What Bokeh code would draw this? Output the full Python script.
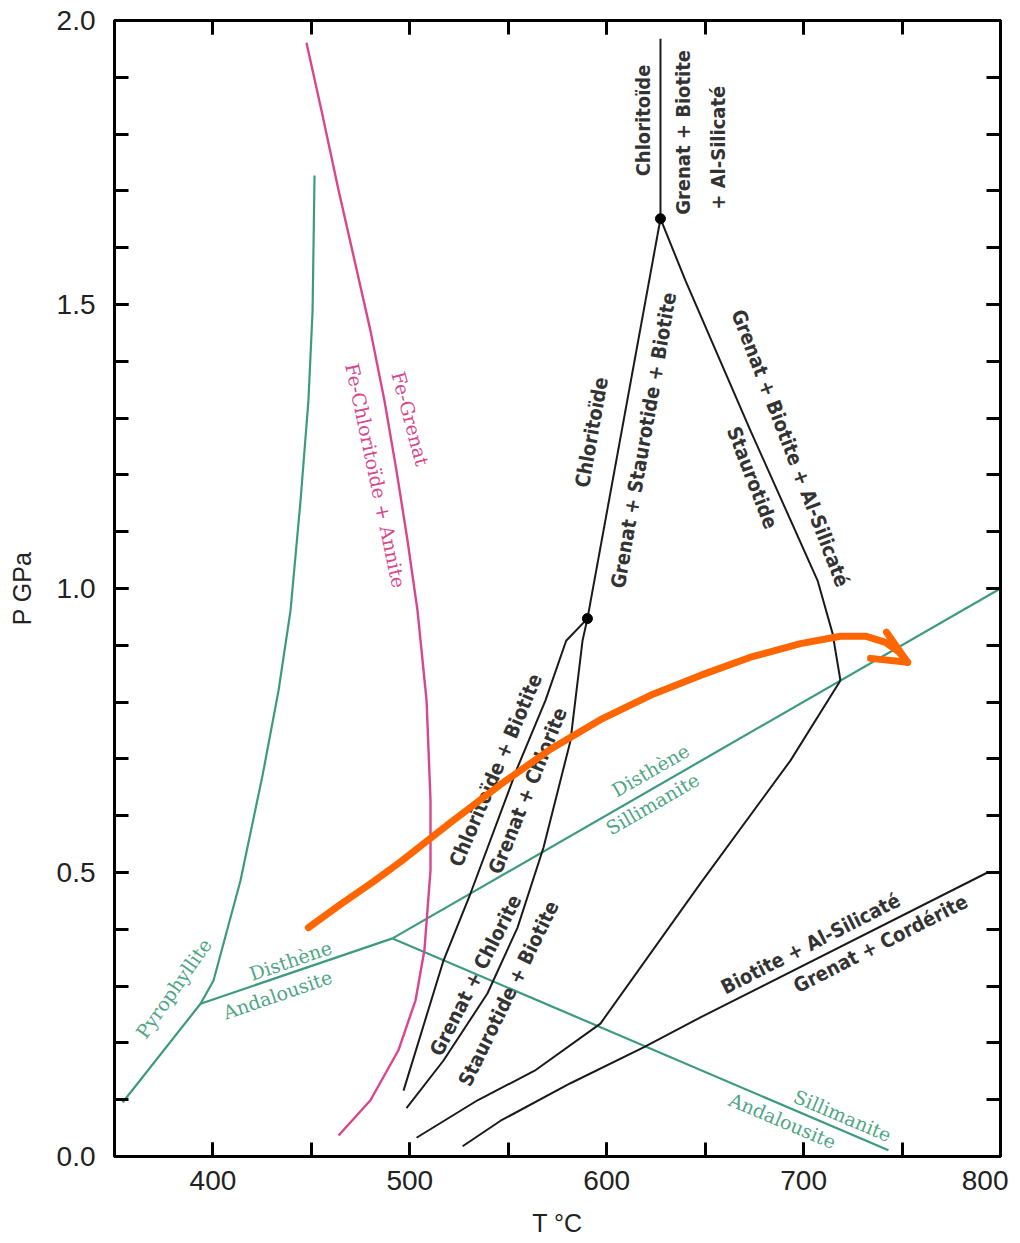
from bokeh.plotting import figure
from bokeh.models import LinearAxis, SingleIntervalTicker, PrintfTickFormatter, CustomJSTickFormatter
from bokeh.embed import file_html
from bokeh.resources import INLINE
from bokeh.core.properties import value

# ---------------- data (T in °C, P in GPa) ----------------
x_ticks_interval = 100
y_ticks_interval = 0.5

# green: pyrophyllite reaction
pyro_T = [354.1, 393.7, 400.3, 414.0, 425.2, 433.3, 439.4, 444.5, 448.5, 450.6, 451.6]
pyro_P = [0.095, 0.269, 0.310, 0.486, 0.671, 0.820, 0.961, 1.155, 1.331, 1.489, 1.727]
# green: Al-silicate triple point lines
ky_and_T = [393.7, 491.2]
ky_and_P = [0.269, 0.384]
ky_sil_T = [491.2, 800.0]
ky_sil_P = [0.384, 1.000]
and_sil_T = [491.2, 743.1]
and_sil_P = [0.384, 0.011]

# pink: Fe-Grenat = Fe-Chloritoide + Annite
fe_T = [447.5, 455.1, 463.8, 471.9, 480.0, 487.1, 493.2, 498.8, 503.9, 508.5, 510.5, 510.5,
        507.4, 502.9, 494.2, 480.0, 463.8]
fe_P = [1.961, 1.842, 1.701, 1.578, 1.454, 1.331, 1.208, 1.085, 0.961, 0.803, 0.627, 0.504,
        0.363, 0.275, 0.187, 0.099, 0.037]

# black reactions
a_T = [627.3, 627.3]
a_P = [1.968, 1.651]
b_T = [627.3, 590.2]
b_P = [1.651, 0.947]
c_T = [627.3, 640.0, 673.0, 707.1, 714.7, 718.7]
c_P = [1.651, 1.542, 1.278, 1.014, 0.921, 0.838]
d_T = [718.7, 693.3, 647.6, 596.8, 563.4, 534.4, 503.4]
d_P = [0.838, 0.697, 0.481, 0.234, 0.151, 0.099, 0.033]
e_T = [590.2, 579.4, 568.9, 554.7, 530.8, 517.1, 496.8]
e_P = [0.947, 0.908, 0.803, 0.685, 0.463, 0.345, 0.116]
f_T = [590.2, 587.7, 581.6, 567.9, 554.7, 539.4, 517.1, 498.3]
f_P = [0.947, 0.908, 0.732, 0.544, 0.403, 0.287, 0.169, 0.085]
g_T = [526.8, 546.1, 581.6, 618.7, 647.6, 793.4, 800.0]
g_P = [0.018, 0.063, 0.129, 0.192, 0.245, 0.500, 0.500]

# invariant points
inv_T = [627.3, 590.2]
inv_P = [1.651, 0.947]

# orange P-T path
path_T = [448.5, 464.8, 481.5, 495.3, 520.7, 546.1, 571.4, 596.8, 622.2, 647.6, 673.0, 698.4,
          718.7, 731.4, 741.6, 748.2, 752.8]
path_P = [0.403, 0.444, 0.484, 0.519, 0.588, 0.655, 0.717, 0.769, 0.812, 0.847, 0.879, 0.903,
          0.916, 0.916, 0.905, 0.889, 0.870]
arrow1_T = [742.1, 752.8]
arrow1_P = [0.923, 0.870]
arrow2_T = [734.0, 752.8]
arrow2_P = [0.877, 0.870]

# labels
black_text = ["Chloritoïde", "Grenat + Biotite", "+ Al-Silicaté",
              "Chloritoïde", "Grenat + Staurotide + Biotite",
              "Grenat + Biotite + Al-Silicaté", "Staurotide",
              "Chloritoïde + Biotite", "Grenat + Chlorite",
              "Grenat + Chlorite", "Staurotide + Biotite",
              "Biotite + Al-Silicaté", "Grenat + Cordérite"]
black_T = [618.2, 638.5, 656.3, 592.3, 618.7, 693.3, 674.0, 543.5, 559.8, 533.4, 550.1, 703.5, 739.1]
black_P = [1.824, 1.803, 1.776, 1.275, 1.261, 1.247, 1.195, 0.680, 0.644, 0.319, 0.287, 0.375, 0.375]
black_ang = [90, 90, 90, 80, 80, -69, -69, 67, 68, 63, 64, 27, 27]

green_text = ["Pyrophyllite", "Disthène", "Andalousite", "Disthène", "Sillimanite",
              "Sillimanite", "Andalousite"]
green_T = [380.0, 439.4, 432.8, 622.2, 623.3, 719.8, 689.3]
green_P = [0.296, 0.345, 0.285, 0.680, 0.621, 0.072, 0.063]
green_ang = [55, 19, 19, 30, 30, -23, -23]

pink_text = ["Fe-Grenat", "Fe-Chloritoïde + Annite"]
pink_T = [500.3, 482.6]
pink_P = [1.299, 1.199]
pink_ang = [-75, -78]

# ---------------- figure ----------------
GREEN = "#3d9a80"
GREEN_TXT = "#4fa585"
PINK = "#d8468e"
BLACK = "#1a1a1a"
ORANGE = "#ff6600"

p = figure(frame_width=886, frame_height=1136, x_range=(350, 800), y_range=(0, 2.0),
           output_backend="svg", toolbar_location=None,
           min_border_left=114, min_border_right=8, min_border_top=20, min_border_bottom=78,
           x_axis_label="T °C", y_axis_label="P GPa")
p.xgrid.visible = False
p.ygrid.visible = False
p.outline_line_color = "black"
p.outline_line_width = 3
p.background_fill_color = "white"
p.border_fill_color = "white"

p.xaxis.ticker = SingleIntervalTicker(interval=x_ticks_interval, num_minor_ticks=2)
p.yaxis.ticker = SingleIntervalTicker(interval=y_ticks_interval, num_minor_ticks=5)
p.yaxis.formatter = PrintfTickFormatter(format="%.1f")

def style_axis(ax):
    ax.axis_line_width = 3
    ax.axis_line_color = "black"
    ax.major_tick_line_width = 3
    ax.minor_tick_line_width = 3
    ax.major_tick_in = 14
    ax.major_tick_out = 0
    ax.minor_tick_in = 14
    ax.minor_tick_out = 0
    ax.major_label_text_font = "Liberation Sans"
    ax.major_label_text_font_size = "28px"
    ax.major_label_text_color = "#222222"
    ax.axis_label_text_font = "Liberation Sans"
    ax.axis_label_text_font_size = "25px"
    ax.axis_label_text_font_style = "normal"
    ax.axis_label_text_color = "#222222"

for ax in p.xaxis + p.yaxis:
    style_axis(ax)
p.yaxis.major_label_standoff = 19
p.yaxis.axis_label_standoff = 18
p.xaxis.major_label_standoff = 14
p.xaxis.axis_label_standoff = 16

top = LinearAxis(ticker=SingleIntervalTicker(interval=x_ticks_interval, num_minor_ticks=2))
right = LinearAxis(ticker=SingleIntervalTicker(interval=y_ticks_interval, num_minor_ticks=5))
for ax in (top, right):
    style_axis(ax)
    ax.formatter = CustomJSTickFormatter(code="return '';")
    ax.major_label_standoff = 0
p.add_layout(top, "above")
p.add_layout(right, "right")

# green lines
for xs, ys in [(pyro_T, pyro_P), (ky_and_T, ky_and_P), (ky_sil_T, ky_sil_P), (and_sil_T, and_sil_P)]:
    p.line(xs, ys, line_color=GREEN, line_width=2.2, line_join="round")
# pink line
p.line(fe_T, fe_P, line_color=PINK, line_width=2.4, line_join="round")
# black lines
for xs, ys in [(a_T, a_P), (b_T, b_P), (c_T, c_P), (d_T, d_P), (e_T, e_P), (f_T, f_P), (g_T, g_P)]:
    p.line(xs, ys, line_color=BLACK, line_width=2, line_join="round")
p.scatter(inv_T, inv_P, size=10, color="black")

# labels
p.text(black_T, black_P, text=black_text, angle=black_ang, angle_units="deg",
       text_font=value("Liberation Sans Narrow, DejaVu Sans Condensed, Liberation Sans"),
       text_font_style="bold", text_font_size="20px", text_color="#333333",
       text_align="center", text_baseline="middle")
p.text(green_T, green_P, text=green_text, angle=green_ang, angle_units="deg",
       text_font=value("DejaVu Serif"), text_font_size="19px", text_color=GREEN_TXT,
       text_align="center", text_baseline="middle")
p.text(pink_T, pink_P, text=pink_text, angle=pink_ang, angle_units="deg",
       text_font=value("DejaVu Serif"), text_font_size="19px", text_color=PINK,
       text_align="center", text_baseline="middle")

# orange path with arrow head
p.line(path_T, path_P, line_color=ORANGE, line_width=7, line_cap="round", line_join="round")
p.line(arrow1_T, arrow1_P, line_color=ORANGE, line_width=7, line_cap="round")
p.line(arrow2_T, arrow2_P, line_color=ORANGE, line_width=7, line_cap="round")

open("out.html", "w").write(file_html(p, INLINE))
